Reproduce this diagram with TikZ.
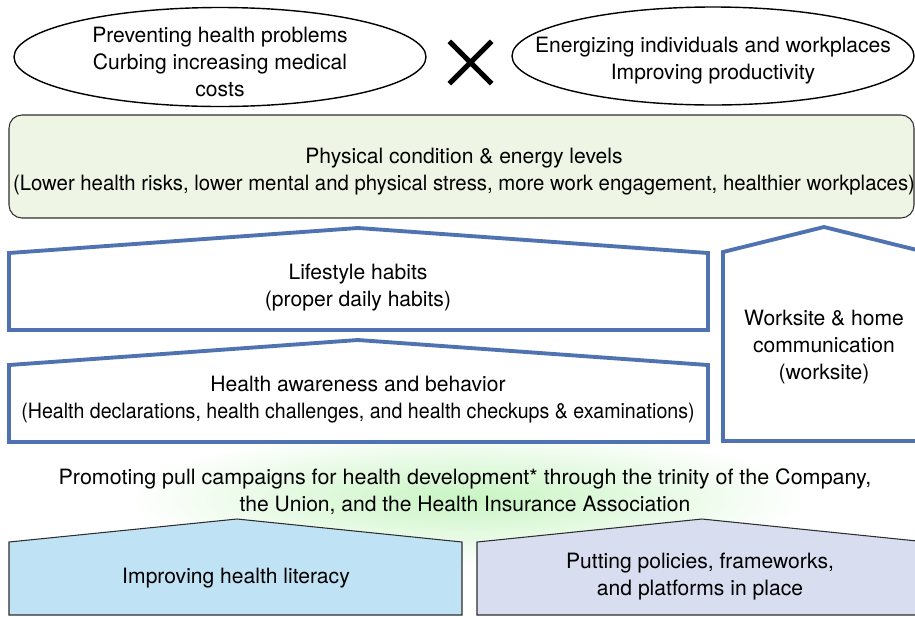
\documentclass[tikz,border=0pt]{standalone}
\usepackage{fontspec}
\usepackage{graphicx}
\setmainfont{TeX Gyre Heros}
\usetikzlibrary{positioning, shapes.geometric, shapes.misc, calc}

\definecolor{houseblue}{RGB}{79,114,177}
\definecolor{condgreen}{RGB}{238,245,228}
\definecolor{glowgreen}{RGB}{200,244,194}
\definecolor{literacyblue}{RGB}{192,226,245}
\definecolor{policylilac}{RGB}{216,221,240}
\definecolor{edgegray}{RGB}{45,45,45}

\newcommand{\narrowline}[2]{\scalebox{#1}[1]{#2}}

\begin{document}
\begin{tikzpicture}[
    x=0.02cm, y=-0.02cm, % one unit = one pixel of the layout
    % Styles
    txt/.style={ % Plain centred text
        align=center,
        inner sep=0pt,
        font=\fontsize{12}{15.4}\selectfont
    },
    goalring/.style={ % Outcome ellipses at the top
        draw,
        line width=0.8pt
    },
    condbox/.style={ % Condition box
        rounded corners=0.26cm,
        draw=edgegray,
        fill=condgreen,
        line width=0.6pt
    },
    house/.style={ % Blue outlined houses
        draw=houseblue,
        fill=white,
        line width=2.2pt,
        line join=miter
    },
    base/.style={ % Filled houses at the bottom
        draw=edgegray,
        line width=0.6pt
    }
]

    \useasboundingbox (0,0) rectangle (915,616);
    \clip (0,0) rectangle (915,616);

    % Outcomes
    \draw[goalring] (220,57) ellipse [x radius=206, y radius=49.5];
    \draw[goalring] (713,56) ellipse [x radius=201, y radius=49];
    \node[txt] (prevent) at (220,62)
        {Preventing health problems\\Curbing increasing medical\\costs};
    \node[txt] (energize) at (713,60.5)
        {Energizing individuals and workplaces\\Improving productivity};
    \node[cross out, draw, line width=3pt, inner sep=0pt, minimum size=0.74cm] (times) at (470.5,62.5) {};

    % Condition
    \draw[condbox] (9,115) rectangle (914,218);
    \node[txt] (cond) at (464,172)
        {Physical condition \& energy levels\\\narrowline{0.965}{(Lower health risks, lower mental and physical stress, more work engagement, healthier workplaces)}};

    % Glow behind the campaign text
    \shade[inner color=glowgreen, outer color=white] (468,498) ellipse [x radius=340, y radius=68];

    % Houses
    \draw[house] (9,330) -- (9,253) -- (358,228) -- (708,253) -- (708,330) -- cycle;
    \draw[house] (9,442) -- (9,365) -- (358,340) -- (708,365) -- (708,442) -- cycle;
    \draw[house] (723,441) -- (723,252) -- (824,227) -- (925,252) -- (925,441) -- cycle;

    \node[txt] (habits) at (358,287.5) {Lifestyle habits\\(proper daily habits)};
    \node[txt] (aware) at (358,399.5)
        {Health awareness and behavior\\\narrowline{0.93}{(Health declarations, health challenges, and health checkups \& examinations)}};
    \node[txt] (worksite) at (824,347) {Worksite \& home\\communication\\(worksite)};

    % Campaign
    \node[txt] (campaign) at (465,491.5)
        {\narrowline{1.02}{Promoting pull campaigns for health development* through the trinity of the Company,}\\the Union, and the Health Insurance Association};

    % Foundations
    \draw[base, fill=literacyblue] (9,615) -- (9,542) -- (237,519) -- (462,542) -- (462,615) -- cycle;
    \draw[base, fill=policylilac] (477,615) -- (477,542) -- (702,519) -- (927,542) -- (927,615) -- cycle;

    \node[txt] (literacy) at (236,578) {Improving health literacy};
    \node[txt] (policy) at (700,576.5) {Putting policies, frameworks,\\and platforms in place};
\end{tikzpicture}
\end{document}
